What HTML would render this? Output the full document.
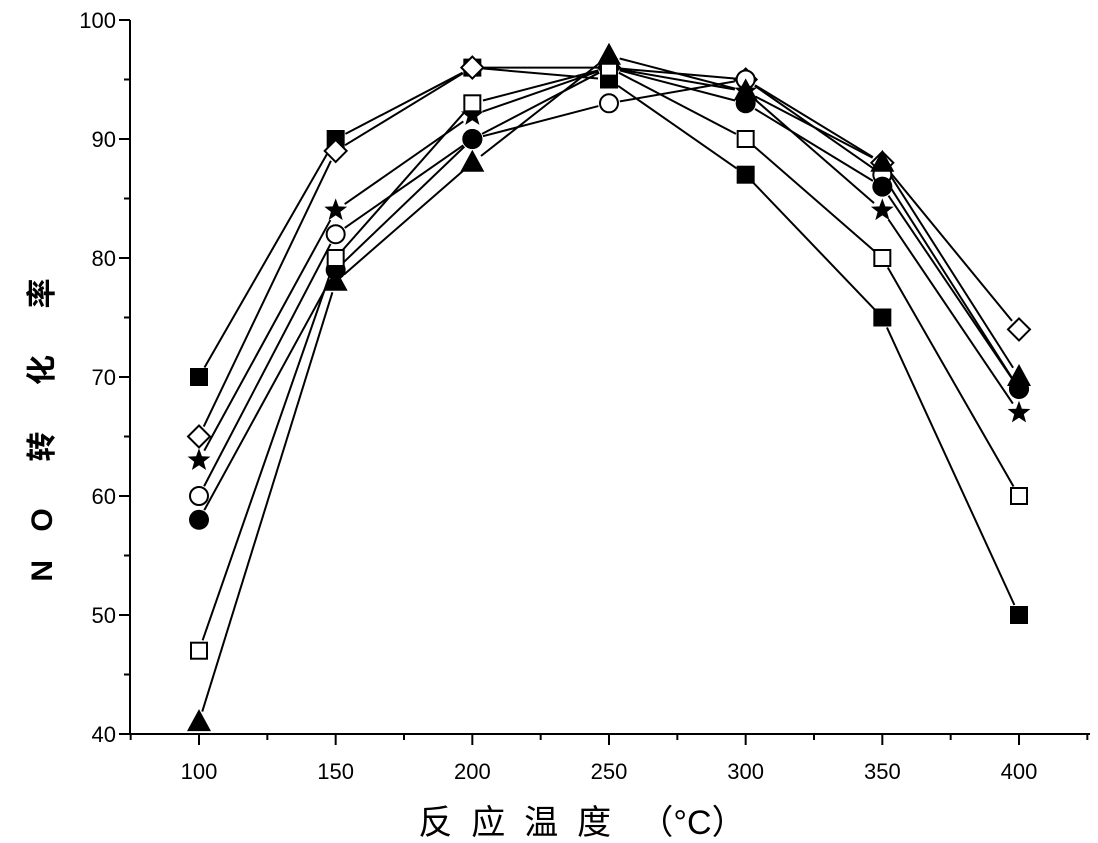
<!DOCTYPE html>
<html><head><meta charset="utf-8"><style>
body{margin:0;background:#fff}
svg{display:block;font-family:"Liberation Sans","Noto Sans CJK SC",sans-serif}
</style></head><body>
<svg id="chart" width="1098" height="843" viewBox="0 0 1098 843" xmlns="http://www.w3.org/2000/svg">
<g id="axes"></g><g id="lines"></g><g id="marks"></g>
<text x="582" y="834" font-size="34" text-anchor="middle" xml:space="preserve">反  应  温  度   （°C）</text>
<text transform="translate(52,425) rotate(-90)" font-size="30" text-anchor="middle" font-weight="bold" letter-spacing="10" xml:space="preserve">N O  转  化  率</text>
</svg>
<script>
const temps=[100,150,200,250,300,350,400];
const xTicks=[100,150,200,250,300,350,400];
const yTicks=[40,50,60,70,80,90,100];
const sFilledSquare=[70,90,96,95,87,75,50];
const sOpenDiamond=[65,89,96,96,95,88,74];
const sStar=[63,84,92,96,94,84,67];
const sOpenCircle=[60,82,90,93,95,87,69];
const sFilledCircle=[58,79,90,96,93,86,69];
const sOpenSquare=[47,80,93,96,90,80,60];
const sTriangle=[41,78,88,97,94,88,70];
const NS="http://www.w3.org/2000/svg";
const X=v=>199+(v-100)*(1019-199)/300;
const Y=v=>734-(v-40)*(734-20)/60;
function mk(t,a,p){const e=document.createElementNS(NS,t);for(const k in a)e.setAttribute(k,a[k]);p.appendChild(e);return e;}
const ax=document.getElementById('axes');
let l=mk('line',{x1:130,y1:20,x2:130,y2:734,stroke:'#000','stroke-width':2},ax);


l=mk('line',{x1:130,y1:734,x2:1090,y2:734,stroke:'#000','stroke-width':2},ax);


for(let v=40;v<=100;v+=5){mk('line',{x1:v%10?124:119,y1:Y(v),x2:130,y2:Y(v),stroke:'#000','stroke-width':2},ax);}
yTicks.forEach(v=>{const t=mk('text',{x:116,y:Y(v)+8,'font-size':22,'text-anchor':'end'},ax);t.textContent=v;

});
for(let v=75;v<=425;v+=25){const x=X(v);if(x<130||x>1090)continue;mk('line',{x1:x,y1:734,x2:x,y2:v%50?740:745,stroke:'#000','stroke-width':2},ax);}
xTicks.forEach(v=>{const t=mk('text',{x:X(v),y:779,'font-size':22,'text-anchor':'middle'},ax);t.textContent=v;

});
const series=[[sFilledSquare,'fsq'],[sOpenDiamond,'odi'],[sStar,'star'],[sOpenCircle,'oci'],[sFilledCircle,'fci'],[sOpenSquare,'osq'],[sTriangle,'tri']];
const lg=document.getElementById('lines'),mg=document.getElementById('marks');
function marker(type,x,y){
 const a={stroke:'#000','stroke-width':2};let e;
 if(type==='fsq')e=mk('rect',{x:x-9,y:y-9,width:18,height:18,fill:'#000'},mg);
 else if(type==='osq')e=mk('rect',Object.assign({x:x-8,y:y-8,width:16,height:16,fill:'#fff'},a),mg);
 else if(type==='odi')e=mk('polygon',Object.assign({points:`${x},${y-11} ${x+11},${y} ${x},${y+11} ${x-11},${y}`,fill:'#fff'},a),mg);
 else if(type==='oci')e=mk('circle',Object.assign({cx:x,cy:y,r:9,fill:'#fff'},a),mg);
 else if(type==='fci')e=mk('circle',{cx:x,cy:y,r:10,fill:'#000'},mg);
 else if(type==='tri')e=mk('polygon',{points:`${x},${y-13} ${x+12},${y+9} ${x-12},${y+9}`,fill:'#000'},mg);
 else{let p=[];for(let i=0;i<10;i++){const r=i%2?5:12,an=-Math.PI/2+i*Math.PI/5;p.push((x+r*Math.cos(an)).toFixed(1)+','+(y+r*Math.sin(an)).toFixed(1));}e=mk('polygon',{points:p.join(' '),fill:'#000'},mg);}
 return e;
}
series.forEach(([vals,type])=>{
 for(let i=0;i<vals.length-1;i++){
  const x1=X(temps[i]),y1=Y(vals[i]),x2=X(temps[i+1]),y2=Y(vals[i+1]);
  const d=Math.hypot(x2-x1,y2-y1),g=11/d;
  const ln=mk('line',{x1:x1+(x2-x1)*g,y1:y1+(y2-y1)*g,x2:x2-(x2-x1)*g,y2:y2-(y2-y1)*g,stroke:'#000','stroke-width':2},lg);
  
  
 }
 vals.forEach((v,i)=>{const m=marker(type,X(temps[i]),Y(v));
  
  });
});
</script>
</body></html>
